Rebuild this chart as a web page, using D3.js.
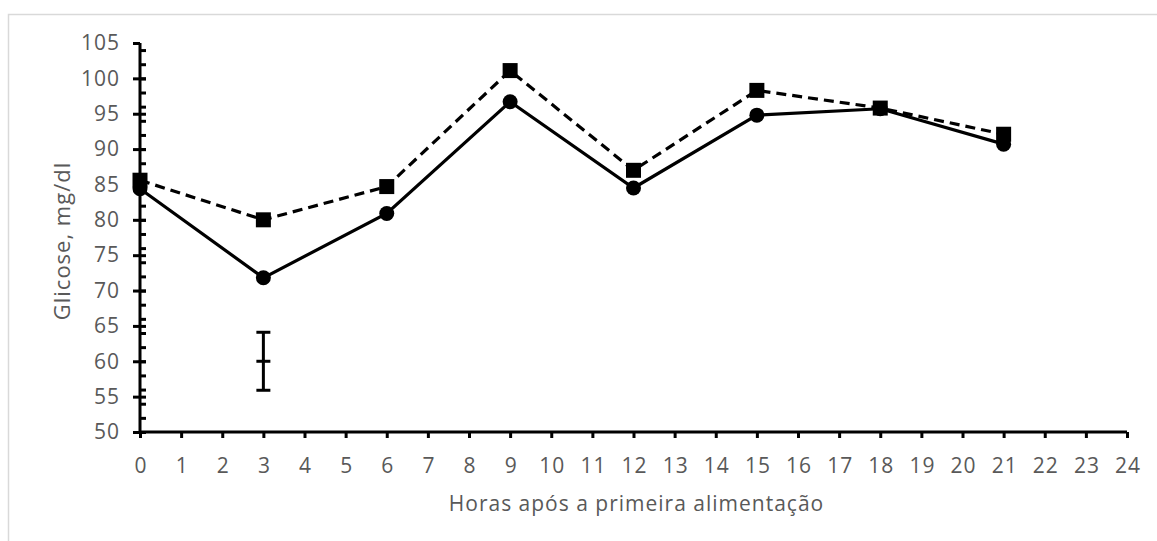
<!DOCTYPE html>
<html>
<head>
<meta charset="utf-8">
<script src="https://cdn.jsdelivr.net/npm/d3@7"></script>
<style>
  html, body { margin: 0; padding: 0; background: #fff; }
  svg { display: block; }
  text { font-family: "Open Sans", "Noto Sans", sans-serif; fill: #595959; }
</style>
</head>
<body>
<svg id="chart" width="1157" height="541"></svg>
<script>
// ---- data ----
const hours = [0, 3, 6, 9, 12, 15, 18, 21];
const seriesCircle = [84.4, 71.8, 80.9, 96.7, 84.5, 94.8, 95.7, 90.7];
const seriesSquare = [85.6, 80.0, 84.7, 101.1, 87.0, 98.3, 95.8, 92.1];
const errX = [3];
const errMid = [60];
const errHalf = [4.1];
const xTickValues = d3.range(0, 25, 1);
const yMajorTicks = [50, 55, 60, 65, 70, 75, 80, 85, 90, 95, 100, 105];
const yMinorTicks = d3.range(50, 105, 2);
const xTitle = "Horas após a primeira alimentação";
const yTitle = "Glicose, mg/dl";

// ---- layout ----
const svg = d3.select("#chart");
const x = d3.scaleLinear().domain([0, 24]).range([140, 1127]);
const y = d3.scaleLinear().domain([50, 105]).range([432, 43]);

// chart border
svg.append("rect")
  .attr("x", 8.5).attr("y", 14.5)
  .attr("width", 1170).attr("height", 560)
  .attr("fill", "none").attr("stroke", "#d9d9d9").attr("stroke-width", 1.5);

const tickFont = 21, tickLs = "1px";

// x axis
const xAxis = d3.axisBottom(x).tickValues(xTickValues).tickSize(6).tickPadding(20)
  .tickFormat(d3.format("d"));
const gx = svg.append("g").attr("transform", `translate(0,${y(50)})`).call(xAxis);
gx.select(".domain").attr("stroke", "#000").attr("stroke-width", 3)
  .attr("d", `M${x(0)},0H${x(24)}`);
gx.selectAll(".tick line").attr("stroke", "#000").attr("stroke-width", 3);
gx.selectAll(".tick text").attr("font-size", tickFont).attr("fill", "#595959")
  .style("letter-spacing", tickLs).attr("dx", "0.5px")
  .style("font-family", '"Open Sans", sans-serif');

// y axis: major ticks crossing, minor ticks inside
const gy = svg.append("g").attr("transform", `translate(${x(0)},0)`);
gy.append("g").call(d3.axisRight(y).tickValues(yMinorTicks).tickSize(6).tickFormat(""))
  .call(g => g.select(".domain").remove())
  .call(g => g.selectAll(".tick line").attr("stroke", "#000").attr("stroke-width", 3));
const yAxis = d3.axisLeft(y).tickValues(yMajorTicks).tickSize(6).tickPadding(14)
  .tickFormat(d3.format("d"));
const gyM = gy.append("g").call(yAxis);
gyM.select(".domain").attr("stroke", "#000").attr("stroke-width", 3)
  .attr("d", `M0,${y(105)}V${y(50)}`);
gyM.selectAll(".tick line").attr("stroke", "#000").attr("stroke-width", 3)
  .attr("x2", d => d === 105 ? 0 : 6).attr("x1", -7);
gyM.selectAll(".tick text").attr("font-size", tickFont).attr("fill", "#595959")
  .style("letter-spacing", tickLs)
  .style("font-family", '"Open Sans", sans-serif');

// axis titles
svg.append("text")
  .attr("x", (x(0) + x(24)) / 2 + 3).attr("y", 511)
  .attr("text-anchor", "middle").attr("font-size", 21)
  .style("letter-spacing", "1px")
  .text(xTitle);
svg.append("text")
  .attr("transform", `translate(70,241) rotate(-90)`)
  .attr("text-anchor", "middle").attr("font-size", 22)
  .style("letter-spacing", "1px")
  .text(yTitle);

// lines
const pts = (vals) => hours.map((h, i) => [h, vals[i]]);
const line = d3.line().x(d => x(d[0])).y(d => y(d[1]));
svg.append("path").datum(pts(seriesCircle))
  .attr("d", line).attr("fill", "none").attr("stroke", "#000").attr("stroke-width", 3.2);
svg.append("path").datum(pts(seriesSquare))
  .attr("d", line).attr("fill", "none").attr("stroke", "#000").attr("stroke-width", 3.2)
  .attr("stroke-dasharray", "10,6");

// markers
svg.append("g").selectAll("circle").data(pts(seriesCircle)).join("circle")
  .attr("cx", d => x(d[0])).attr("cy", d => y(d[1])).attr("r", 7.5).attr("fill", "#000");
svg.append("g").selectAll("rect").data(pts(seriesSquare)).join("rect")
  .attr("x", d => x(d[0]) - 7.5).attr("y", d => y(d[1]) - 7.5)
  .attr("width", 15).attr("height", 15).attr("fill", "#000");

// error bar
const eg = svg.append("g");
errX.forEach((ex, i) => {
  const cx = x(ex), lo = y(errMid[i] - errHalf[i]), hi = y(errMid[i] + errHalf[i]), mid = y(errMid[i]);
  eg.append("line").attr("x1", cx).attr("x2", cx).attr("y1", lo).attr("y2", hi)
    .attr("stroke", "#000").attr("stroke-width", 3);
  [lo, hi, mid].forEach(yy => eg.append("line")
    .attr("x1", cx - 7).attr("x2", cx + 7).attr("y1", yy).attr("y2", yy)
    .attr("stroke", "#000").attr("stroke-width", 3));
});
</script>
</body>
</html>
